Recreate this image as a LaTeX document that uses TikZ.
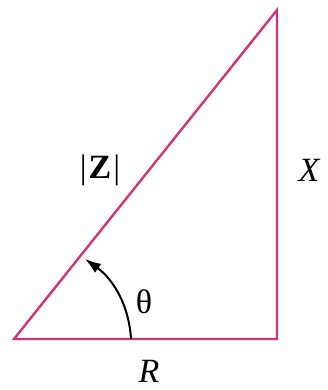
\documentclass[tikz,border=0pt]{standalone}
\usepackage{fontspec}
\setmainfont{Liberation Serif}
\usetikzlibrary{arrows.meta}
\definecolor{tri}{RGB}{208,52,118}
\begin{document}
\begin{tikzpicture}[x=1pt,y=-1pt,
  side/.style={draw=tri,line width=2.4pt,line join=miter},
  lab/.style={font=\fontsize{34}{38}\selectfont,inner sep=0pt},
  angarrow/.style={draw=black,line width=2pt,-{Latex[length=16pt,width=11pt]}}]
\useasboundingbox (0,0) rectangle (328,390);
\coordinate (A) at (14,339);
\coordinate (B) at (277,339);
\coordinate (C) at (277,10);
\coordinate (s) at (131,339);
\coordinate (e) at (85,259);
\draw[side] (A) -- (B) -- (C) -- cycle;
\draw[angarrow] (s) .. controls (129,305) and (113,279) .. (e);
\node[lab] (z) at (100,170) {|\kern2pt\textbf{Z}\kern2pt|};
\node[lab] (x) at (309,170) {\itshape X};
\node[lab] (r) at (149,371) {\itshape R};
\node[lab] (t) at (144,302) {θ};
\end{tikzpicture}
\end{document}
